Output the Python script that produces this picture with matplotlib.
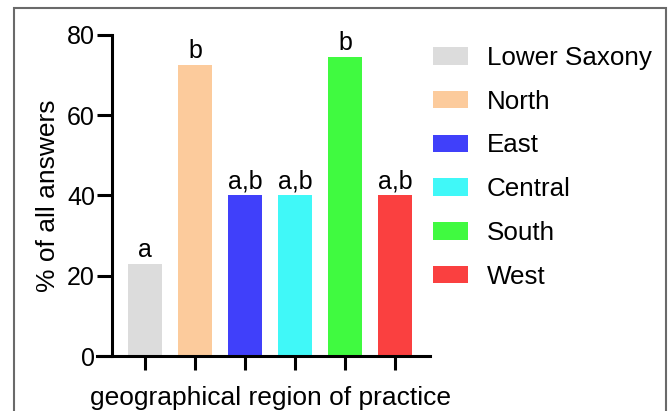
import matplotlib.pyplot as plt
from matplotlib.patches import Patch, Rectangle

plt.rcParams['font.family'] = ['Liberation Sans', 'DejaVu Sans']

# Data
regions = ["Lower Saxony", "North", "East", "Central", "South", "West"]
percent = [23, 72.6, 40, 40, 74.6, 40]
letters = ["a", "b", "a,b", "a,b", "b", "a,b"]
colors = ["#dcdcdc", "#fccb9c", "#4040fa", "#40f8f8", "#40fa40", "#fa4040"]

fig = plt.figure(figsize=(6.69, 4.11), dpi=100)

# grey frame round the panel
fig.patches.append(Rectangle((14 / 669, -0.05), (666 - 14) / 669, 1.05 - 8 / 411,
                             transform=fig.transFigure, fill=False,
                             edgecolor="#6a6a6a", linewidth=1.5))

ax = fig.add_axes([97 / 669, (411 - 356) / 411, (430 - 97) / 669, (356 - 35) / 411])
x = list(range(len(regions)))
ax.bar(x, percent, width=0.68, color=colors)

for xi, val, lab in zip(x, percent, letters):
    ax.annotate(lab, (xi, val), xytext=(0, 5), textcoords="offset points",
                ha="center", va="baseline", fontsize=18)

ax.set_xlim(-0.96, 5.7)
ax.set_ylim(0, 80)
ax.spines["left"].set_position(("data", -0.66))
ax.spines["top"].set_visible(False)
ax.spines["right"].set_visible(False)
for s in ["left", "bottom"]:
    ax.spines[s].set_linewidth(2.2)

ax.set_yticks([0, 20, 40, 60, 80])
ax.set_xticks(x)
ax.set_xticklabels([])
ax.tick_params(axis="y", length=10.8, width=2.2, labelsize=18, pad=1.5)
ax.tick_params(axis="x", length=10, width=2.2)

ax.set_ylabel("% of all answers", fontsize=19, labelpad=5)
ax.set_xlabel("geographical region of practice", fontsize=19, labelpad=5)
ax.xaxis.set_label_coords(0.521, -0.095)

handles = [Patch(facecolor=c) for c in colors]
fig.legend(handles, regions, loc="upper left", bbox_to_anchor=(433 / 669, 1 - 46 / 411),
           frameon=False, fontsize=18.7, borderpad=0, borderaxespad=0,
           handlelength=1.35, handleheight=0.66, handletextpad=0.73, labelspacing=0.76)

fig.savefig("out.png", dpi=100)
